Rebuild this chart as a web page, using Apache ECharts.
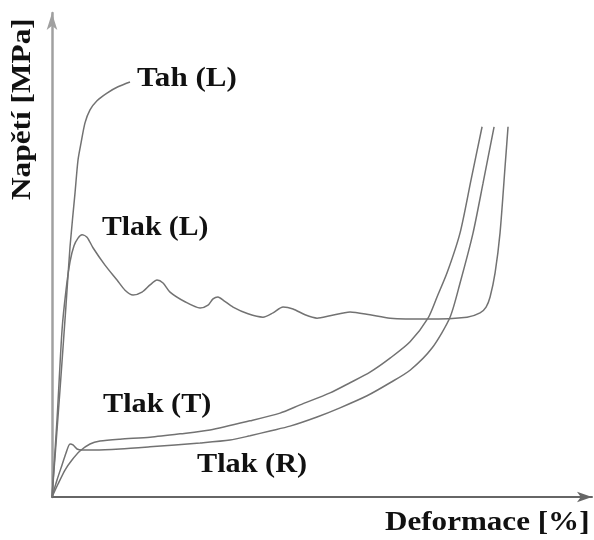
<!DOCTYPE html>
<html><head><meta charset="utf-8">
<script src="https://cdn.jsdelivr.net/npm/echarts@6/dist/echarts.min.js"></script>
<style>html,body{margin:0;padding:0;background:#fff}#c{width:594px;height:540px}</style>
</head><body><div id="c"></div>
<script>
// Data (arbitrary units: deformation 0-100, stress 0-100)
const tahL = [[0,0],[1.50,22.2],[2.63,39.8],[3.38,51.9],[4.32,63.1],[4.88,69.9],[5.44,73.4],[6.19,77.6],[7.13,80.3],[8.44,82.2],[10.32,83.8],[12.38,85.1],[14.63,86.1]];
const tlakL = [[0,0],[0.94,16.0],[1.88,34.6],[2.63,42.9],[3.38,48.8],[4.13,52.1],[4.88,53.7],[5.63,54.4],[6.57,53.9],[7.69,51.7],[9.94,48.1],[12.20,45.0],[13.70,42.9],[15.20,41.9],[16.89,42.5],[18.39,44.0],[19.70,45.0],[20.83,44.4],[22.14,42.5],[24.95,40.5],[27.77,39.2],[29.27,39.8],[30.21,41.1],[31.14,41.5],[32.27,40.7],[33.96,39.4],[36.77,38.0],[39.58,37.3],[41.46,38.2],[43.34,39.4],[45.22,39.0],[47.47,37.8],[49.72,37.1],[52.16,37.6],[55.91,38.4],[59.66,37.8],[63.42,37.1],[70.36,36.9],[77.86,37.3],[80.30,38.2],[81.43,39.4],[82.18,41.5],[83.12,46.5],[84.05,54.8],[84.99,68.5],[85.55,76.8]];
const tlakT = [[0,0],[1.13,2.70],[2.44,5.60],[3.75,7.68],[5.25,9.54],[7.13,11.0],[9.01,11.6],[12.76,12.0],[18.39,12.4],[24.02,13.1],[29.64,13.9],[37.15,15.8],[42.78,17.4],[46.53,19.1],[52.16,21.6],[55.91,23.7],[59.66,25.9],[63.42,28.8],[67.17,32.2],[70.54,37.1],[72.23,41.5],[74.11,46.5],[76.55,54.8],[78.61,65.8],[80.68,76.8]];
const tlakR = [[0,0],[0.94,3.53],[1.88,6.64],[2.63,9.13],[3.38,11.0],[3.94,10.8],[4.69,9.96],[5.63,9.75],[8.07,9.75],[12.76,9.96],[18.39,10.4],[27.77,11.2],[33.40,11.8],[37.15,12.7],[40.90,13.7],[44.65,14.7],[49.72,16.6],[54.03,18.5],[59.10,21.0],[63.42,23.7],[67.17,26.3],[71.29,30.9],[74.67,37.3],[76.55,44.4],[78.99,54.8],[80.86,65.1],[82.93,76.8]];
const seriesNames = ['Tah (L)','Tlak (L)','Tlak (T)','Tlak (R)'];
const xTitle = 'Deformace [%]';
const yTitle = 'Napětí [MPa]';

const font = '"Liberation Serif","Times New Roman",serif';
const lineStyle = {color:'#727272', width:1.5};
function mk(name, data){
  return {name, type:'line', data, showSymbol:false, smooth:0.25, lineStyle, silent:true};
}
const chart = echarts.init(document.getElementById('c'), null, {renderer:'canvas'});
chart.setOption({
  animation:false,
  backgroundColor:'#fff',
  grid:{left:52, right:2, top:13, bottom:43},
  xAxis:{type:'value', min:0, max:101.3, axisLabel:{show:false}, axisTick:{show:false}, splitLine:{show:false},
    axisLine:{show:true, symbol:['none','arrow'], symbolSize:[8,15], lineStyle:{color:'#666', width:2}}},
  yAxis:{type:'value', min:0, max:100.4, axisLabel:{show:false}, axisTick:{show:false}, splitLine:{show:false},
    axisLine:{show:true, symbol:['none','arrow'], symbolSize:[8,17], lineStyle:{color:'#a0a0a0', width:2.5}}},
  series:[mk(seriesNames[0],tahL), mk(seriesNames[1],tlakL), mk(seriesNames[2],tlakT), mk(seriesNames[3],tlakR)],
  graphic:[
    {type:'text', x:137, y:66, scaleX:1.15, style:{text:seriesNames[0], font:'bold 27px '+font, fill:'#111'}},
    {type:'text', x:102, y:215, scaleX:1.1, style:{text:seriesNames[1], font:'bold 27px '+font, fill:'#111'}},
    {type:'text', x:103, y:392, scaleX:1.12, style:{text:seriesNames[2], font:'bold 27px '+font, fill:'#111'}},
    {type:'text', x:197, y:452, scaleX:1.12, style:{text:seriesNames[3], font:'bold 27px '+font, fill:'#111'}},
    {type:'text', x:385, y:509, scaleX:1.11, style:{text:xTitle, font:'bold 28px '+font, fill:'#111'}},
    {type:'text', x:10, y:200, rotation:Math.PI/2, scaleX:1.16, style:{text:yTitle, font:'bold 27px '+font, fill:'#111', textVerticalAlign:'top'}}
  ]
});
</script></body></html>
